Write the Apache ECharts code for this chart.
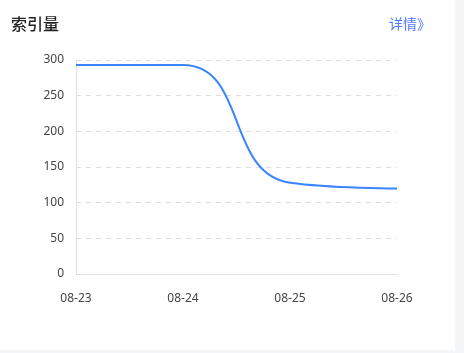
<!DOCTYPE html>
<html>
<head>
<meta charset="utf-8">
<script src="https://cdn.jsdelivr.net/npm/echarts@6/dist/echarts.min.js"></script>
<style>
html,body{margin:0;padding:0;background:#f4f5f7;width:464px;height:353px;overflow:hidden;}
#card{position:absolute;left:0;top:0;width:455px;height:350px;background:#fff;}
#chart{position:absolute;left:0;top:0;width:455px;height:350px;}
</style>
</head>
<body>
<div id="card"><div id="chart"></div></div>
<script>
const categories = ['08-23', '08-24', '08-25', '08-26'];
const indexValues = [293, 293, 128, 120];
const yMin = 0, yMax = 300, yInterval = 50;

const chart = echarts.init(document.getElementById('chart'));
chart.setOption({
  animation: false,
  title: {
    text: '索引量',
    left: 11, top: 16, padding: 0,
    textStyle: { fontSize: 16, fontWeight: 500, color: '#222', fontFamily: 'Noto Sans CJK SC' }
  },
  graphic: [{
    type: 'text', left: 389, top: 17,
    style: { text: '详情》', fontSize: 14, fill: '#4e7bff', fontFamily: 'Noto Sans CJK SC' }
  }],
  grid: { left: 76, right: 58, top: 60, bottom: 76 },
  xAxis: {
    type: 'category', data: categories, boundaryGap: false,
    axisLine: { lineStyle: { color: '#e0e0e0' } },
    axisTick: { show: false },
    axisLabel: { color: '#444', fontSize: 12, margin: 19, fontFamily: 'Noto Sans' }
  },
  yAxis: {
    type: 'value', min: yMin, max: yMax, interval: yInterval,
    axisLine: { show: true, lineStyle: { color: '#e0e0e0' } },
    axisTick: { show: false },
    axisLabel: { color: '#444', fontSize: 12, margin: 12, fontFamily: 'Noto Sans' },
    splitLine: { lineStyle: { type: [5, 5], color: '#dcdcdc' } }
  },
  series: [{
    type: 'line', data: indexValues, smooth: true, showSymbol: false,
    lineStyle: { color: '#3a84ff', width: 2 }
  }]
});
</script>
</body>
</html>
